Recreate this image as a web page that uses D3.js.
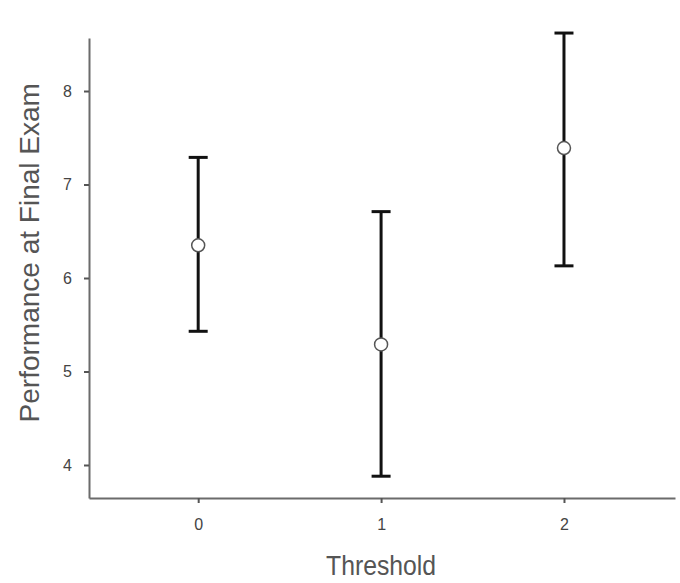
<!DOCTYPE html>
<html>
<head>
<meta charset="utf-8">
<script src="https://cdn.jsdelivr.net/npm/d3@7"></script>
<style>
  body { margin: 0; background: #fff; }
  svg { display: block; font-family: "Liberation Sans", Arial, sans-serif; }
</style>
</head>
<body>
<svg id="chart"></svg>
<script>
// data
var thresholds = [0, 1, 2];
var means = [6.35, 5.29, 7.39];
var upper = [7.29, 6.71, 8.62];
var lower = [5.43, 3.88, 6.13];
var yTicks = [4, 5, 6, 7, 8];

// canvas info
var width = 680;
var height = 583;
var mLeft = 89, mRight = 675, mTop = 38, mBottom = 498;

var svg = d3.select('#chart')
    .attr("width", width)
    .attr("height", height);

var x = d3.scaleLinear().domain([-0.597, 2.607]).range([mLeft, mRight]);
var y = d3.scaleLinear().domain([3.647, 8.567]).range([mBottom, mTop]);

// axes
var gx = svg.append("g")
    .attr("transform", "translate(0," + mBottom + ")")
    .call(d3.axisBottom(x).tickValues(thresholds).tickFormat(d3.format("d"))
        .tickSizeInner(5).tickSizeOuter(0).tickPadding(16));

var gy = svg.append("g")
    .attr("transform", "translate(" + mLeft + ",0)")
    .call(d3.axisLeft(y).tickValues(yTicks).tickFormat(d3.format("d"))
        .tickSizeInner(5).tickSizeOuter(0).tickPadding(12));

[gx, gy].forEach(function(g) {
    g.attr("font-size", null).attr("font-family", null);
    g.select(".domain").attr("stroke", "#6b6b6b").attr("stroke-width", 2);
    g.selectAll(".tick line").attr("stroke", "#555").attr("stroke-width", 2);
    g.selectAll(".tick text").attr("fill", "#444").attr("font-size", 16);
});

// axis titles
svg.append("text")
    .attr("x", x(1))
    .attr("y", 575)
    .attr("text-anchor", "middle")
    .attr("fill", "#555")
    .attr("font-size", 28)
    .attr("textLength", 110)
    .attr("lengthAdjust", "spacingAndGlyphs")
    .text("Threshold");

svg.append("text")
    .attr("transform", "translate(39," + y(6.27) + ") rotate(-90)")
    .attr("text-anchor", "middle")
    .attr("fill", "#555")
    .attr("font-size", 28)
    .text("Performance at Final Exam");

// error bars
var rows = thresholds.map(function(t, i) {
    return {x: t, m: means[i], hi: upper[i], lo: lower[i]};
});

var bars = svg.append("g").selectAll("g").data(rows).enter().append("g");

bars.append("line")
    .attr("x1", function(d) { return x(d.x); })
    .attr("x2", function(d) { return x(d.x); })
    .attr("y1", function(d) { return y(d.hi); })
    .attr("y2", function(d) { return y(d.lo); })
    .attr("stroke", "#111").attr("stroke-width", 3);

bars.selectAll(".cap")
    .data(function(d) { return [{x: d.x, v: d.hi}, {x: d.x, v: d.lo}]; })
    .enter().append("line")
    .attr("class", "cap")
    .attr("x1", function(d) { return x(d.x) - 9.5; })
    .attr("x2", function(d) { return x(d.x) + 9.5; })
    .attr("y1", function(d) { return y(d.v); })
    .attr("y2", function(d) { return y(d.v); })
    .attr("stroke", "#111").attr("stroke-width", 3);

bars.append("circle")
    .attr("cx", function(d) { return x(d.x); })
    .attr("cy", function(d) { return y(d.m); })
    .attr("r", 6.5)
    .attr("fill", "#fff")
    .attr("stroke", "#555")
    .attr("stroke-width", 1.5);
</script>
</body>
</html>
